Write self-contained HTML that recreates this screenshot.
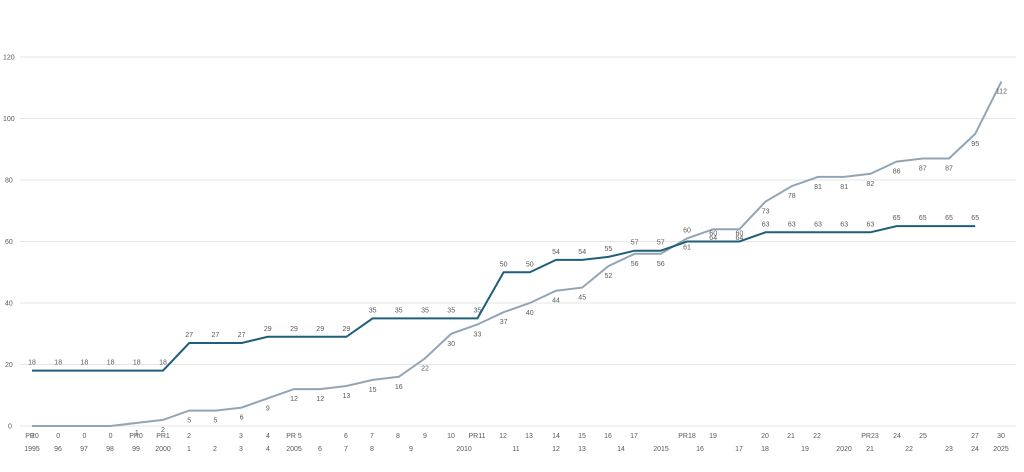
<!DOCTYPE html>
<html><head><meta charset="utf-8"><style>
html,body{margin:0;padding:0;background:#fff;width:1024px;height:472px;overflow:hidden}
svg text{font-family:"Liberation Sans",sans-serif;font-size:7px;fill:#595959}
</style></head><body>
<svg id="c" width="1024" height="472" xmlns="http://www.w3.org/2000/svg"></svg>
<script>
const s=document.getElementById('c');let h='';
const Y=v=>426-v*3.075, X=i=>32+i*26.2;
for(let v=0;v<=120;v+=20){const y=Y(v);h+=`<line x1="20" x2="1016" y1="${y}" y2="${y}" stroke="#e6e6e6" stroke-width="1"/>`;h+=`<text x="${v>=100?3:v>0?5:8}" y="${y+2.5}">${v}</text>`;}
const dark=[18,18,18,18,18,18,27,27,27,29,29,29,29,35,35,35,35,35,50,50,54,54,55,57,57,60,60,60,63,63,63,63,63,65,65,65,65];
const light=[0,0,0,0,1,2,5,5,6,9,12,12,13,15,16,22,30,33,37,40,44,45,52,56,56,61,64,64,73,78,81,81,82,86,87,87,95,112];
const pts=a=>a.map((v,i)=>X(i).toFixed(1)+','+Y(v).toFixed(1)).join(' ');
h+=`<polyline points="${pts(light)}" fill="none" stroke="#93a5b5" stroke-width="2"/>`;
h+=`<polyline points="${pts(dark)}" fill="none" stroke="#1f5f7a" stroke-width="2"/>`;
dark.forEach((v,i)=>{let lbl=v,y=Y(v)-6;if(i==25){lbl=60;y=Y(61)-6;}h+=`<text x="${X(i)}" y="${y}" text-anchor="middle">${lbl}</text>`;});
light.forEach((v,i)=>{let lbl=v,y=Y(v)+12;if(i==25){y=Y(60)+8;}if(i==26||i==27){y=Y(60)-1.5;}h+=`<text x="${X(i)}" y="${y}" text-anchor="middle">${lbl}</text>`;});
const r1=[[32,"PR0"],[136,"PR0"],[163,"PR1"],[189,"2"],[241,"3"],[268,"4"],[294,"PR 5"],[346,"6"],[372,"7"],[398,"8"],[425,"9"],[451,"10"],[477,"PR11"],[503,"12"],[529,"13"],[556,"14"],[582,"15"],[608,"16"],[634,"17"],[687,"PR18"],[713,"19"],[765,"20"],[791,"21"],[817,"22"],[870,"PR23"],[897,"24"],[923,"25"],[975,"27"],[1001,"30"]];
const r2=[[32,"1995"],[58,"96"],[84,"97"],[110,"98"],[136,"99"],[163,"2000"],[189,"1"],[215,"2"],[241,"3"],[268,"4"],[294,"2005"],[320,"6"],[346,"7"],[372,"8"],[411,"9"],[464,"2010"],[516,"11"],[556,"12"],[582,"13"],[621,"14"],[661,"2015"],[700,"16"],[739,"17"],[765,"18"],[805,"19"],[844,"2020"],[870,"21"],[909,"22"],[949,"23"],[975,"24"],[1001,"2025"]];
r1.forEach(([x,t])=>h+=`<text x="${x}" y="438" text-anchor="middle">${t}</text>`);
r2.forEach(([x,t])=>h+=`<text x="${x}" y="451" text-anchor="middle">${t}</text>`);
s.innerHTML=h;
</script>
</body></html>
